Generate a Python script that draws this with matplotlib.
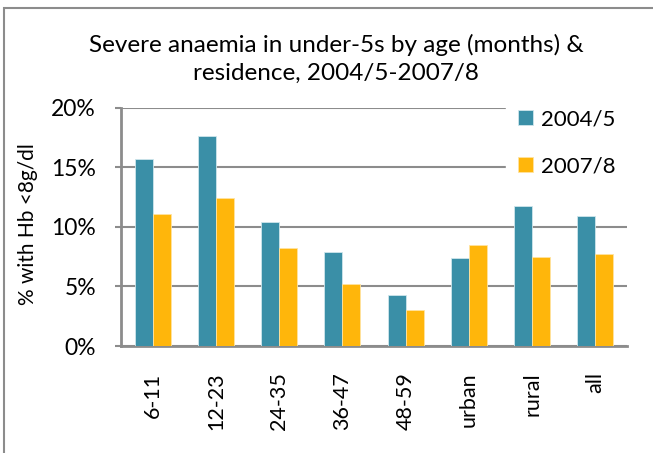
import numpy as np
import matplotlib
matplotlib.use("Agg")
import matplotlib.pyplot as plt
from matplotlib.patches import Rectangle
from matplotlib.ticker import PercentFormatter

# severe anaemia (Hb <8g/dl) by age group and residence
categories = ["6-11", "12-23", "24-35", "36-47", "48-59", "urban", "rural", "all"]
series_names = ["2004/5", "2007/8"]
pct_2004 = [15.7, 17.65, 10.4, 7.9, 4.25, 7.35, 11.75, 10.9]
pct_2007 = [11.05, 12.4, 8.2, 5.2, 3.0, 8.45, 7.45, 7.7]
yticks = [0, 5, 10, 15, 20]

plt.rcParams['font.family'] = ['Lato', 'DejaVu Sans']

fig = plt.figure(figsize=(6.53, 4.53), dpi=100)
ax = fig.add_axes([0.1853, 0.2362, 0.7749, 0.5261])

# outer chart frame (clipped at the right/bottom like the original)
fig.patches.append(Rectangle((4 / 653, -0.1), 1.2, 1 - 8 / 453 + 0.1, transform=fig.transFigure,
                             fill=False, edgecolor="#8c8c8c", linewidth=1.5))

x = np.arange(len(categories))
w = 0.285
ax.bar(x - w / 2, pct_2004, w, color="#3a8fa7", edgecolor="#cfe6ec", linewidth=0.6, label=series_names[0], zorder=3)
ax.bar(x + w / 2, pct_2007, w, color="#ffb60b", edgecolor="#ffe3a0", linewidth=0.6, label=series_names[1], zorder=3)

ax.set_xlim(-0.5, len(categories) - 0.5)
ax.set_ylim(0, 20)
ax.set_yticks(yticks)
ax.yaxis.set_major_formatter(PercentFormatter(decimals=0))
ax.set_xticks(x)
ax.set_xticklabels(categories, rotation=90, fontsize=15.5)
ax.tick_params(axis="x", length=0, pad=19)
ax.tick_params(axis="y", length=4, width=1.5, color="#8c8c8c", labelsize=16.5, pad=14)

ax.grid(axis="y", color="#8c8c8c", linewidth=1.5, zorder=0)
for s in ["top", "right"]:
    ax.spines[s].set_visible(False)
for s in ["left", "bottom"]:
    ax.spines[s].set_color("#8c8c8c")
    ax.spines[s].set_linewidth(2)

ax.set_ylabel("% with Hb <8g/dl", fontsize=15)
ax.yaxis.set_label_coords(-0.164, 0.51)

fig.suptitle("Severe anaemia in under-5s by age (months) &\nresidence, 2004/5-2007/8",
             fontsize=17.5, y=0.925, x=0.515, linespacing=1.4)

leg = ax.legend(loc="center", bbox_to_anchor=(0.881, 0.853), frameon=True, fontsize=16,
                labelspacing=1.2, handlelength=0.68, handleheight=0.68, handletextpad=0.35,
                borderpad=0.55, borderaxespad=0, fancybox=False)
leg.get_frame().set_edgecolor("white")
leg.get_frame().set_alpha(1)

fig.savefig("out.png", dpi=100)
